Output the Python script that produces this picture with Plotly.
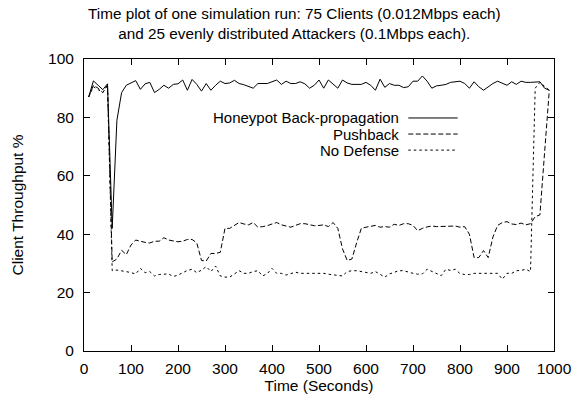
import plotly.graph_objects as go

time_s = list(range(10, 1000, 10))

honeypot = [
    87, 92.5, 91, 89.5, 91.5, 42, 79, 88.5, 91, 91.7,
    92.6, 89.6, 91.5, 92, 88.5, 89.6, 91, 90, 91.3, 91.5,
    92.8, 89.3, 93, 91.3, 89, 91.6, 89.3, 91, 92.4, 91.6,
    91.8, 92.7, 91.6, 91.2, 90.5, 90, 91.6, 91.6, 91.6, 92.2,
    92.8, 91.3, 92.4, 91.6, 91.6, 92.2, 91.5, 90, 91, 92.8,
    90, 92.8, 91.5, 90, 92.8, 91.8, 91.3, 91.3, 91.3, 92,
    91, 89.3, 93.1, 90.3, 91.6, 91, 91, 90.2, 90.5, 92.4,
    92.4, 94.2, 92.4, 90, 90.8, 91, 91.3, 92, 92.2, 92.4,
    91.6, 90, 92.2, 90.5, 89.3, 90.5, 91.6, 92.4, 91.6, 91,
    92.2, 91.3, 92.4, 92, 92, 92, 92.2, 90, 89.3,
]

pushback = [
    87, 91, 90, 88.5, 91, 30.5, 31.5, 34.5, 33, 36.3,
    38, 37.5, 37.2, 37, 37.6, 37.6, 38.8, 38, 37.7, 37.4,
    37.6, 38.2, 38.2, 37, 31, 30.8, 33.4, 33.4, 33.8, 42,
    42, 43, 44, 43.5, 43.2, 44, 42.4, 42.6, 42.9, 43.5,
    44, 43.2, 42.8, 42.4, 43, 43.6, 43.6, 43.3, 42.9, 43,
    43.2, 42.6, 44, 42, 35, 31, 31.5, 37, 42, 42.4,
    42.8, 43, 42.4, 42.6, 42.4, 43.4, 43, 43.6, 43.6, 43,
    41.2, 42, 42.5, 42.8, 42.6, 42.6, 42.8, 42.8, 42.8, 42.4,
    42.6, 40, 32, 32, 34.4, 32, 39, 43, 44, 44.3,
    43.5, 43.3, 43.8, 43.2, 43.6, 46, 46.6, 68, 89.3,
]

no_defense = [
    87, 90.5, 89.5, 88.5, 91, 27.5, 27.7, 27.5, 27.2, 26.8,
    26.4, 28.3, 26.8, 27.2, 25.7, 26.2, 26.4, 26.4, 25.5, 26,
    26.8, 27.6, 28, 26.8, 27.7, 28.9, 27.2, 29.1, 25.7, 25.3,
    25.3, 26.4, 27.5, 26.6, 26.6, 27.2, 27.5, 25.7, 26.5, 28.3,
    26.6, 26.6, 26, 26.5, 27, 26.6, 26.6, 26.5, 26.6, 26.5,
    26.6, 26.3, 26.1, 25.9, 25.7, 27.2, 27.5, 27.5, 27.2, 26.8,
    26.6, 27.2, 26.2, 25.3, 26.4, 27, 27.5, 27.5, 27, 26.6,
    26.3, 26.4, 28, 27.3, 26.6, 25.8, 28, 27.6, 28, 26.5,
    26.2, 26.2, 26.6, 26.6, 26.6, 26.4, 26.6, 26.6, 24.6, 26.6,
    26.6, 27.5, 27.6, 28, 27.2, 90, 92, 90.5, 89.3,
]

series_names = ["Honeypot Back-propagation", "Pushback", "No Defense"]
series_values = [honeypot, pushback, no_defense]
series_dash = ["solid", "5px,2.5px", "2.5px,3px"]

x_ticks = list(range(0, 1001, 100))
y_ticks = list(range(0, 101, 20))

FONT = "Liberation Sans, Arial, Helvetica, sans-serif"
FS = 15.5

fig = go.Figure()
for name, vals, dash in zip(series_names, series_values, series_dash):
    fig.add_trace(go.Scatter(
        x=time_s, y=vals, mode="lines", name=name,
        line=dict(color="black", width=1, dash=dash),
        showlegend=False,
    ))

# gnuplot-style key: text on the left, line sample on the right
key_text_x = 0.675   # paper coords (right edge of text)
key_line_x0 = 0.69
key_line_x1 = 0.795
key_y = [0.798, 0.743, 0.688]
for name, dash, ky in zip(series_names, series_dash, key_y):
    fig.add_annotation(
        x=key_text_x, y=ky, xref="paper", yref="paper",
        text=name, showarrow=False, xanchor="right", yanchor="middle",
        font=dict(family=FONT, size=15, color="black"),
    )
    fig.add_shape(
        type="line", xref="paper", yref="paper",
        x0=key_line_x0, x1=key_line_x1, y0=ky, y1=ky,
        line=dict(color="black", width=1, dash=dash),
    )

# title as a paper-anchored annotation
fig.add_annotation(
    x=0.447, y=1.122, xref="paper", yref="paper",
    text="Time plot of one simulation run: 75 Clients (0.012Mbps each)<br>"
         "and 25 evenly distributed Attackers (0.1Mbps each).",
    showarrow=False, xanchor="center", yanchor="middle", align="center",
    font=dict(family=FONT, size=15.3, color="black"),
)

axis_common = dict(
    showline=True, linecolor="black", linewidth=1, mirror="ticks",
    ticks="inside", ticklen=6, tickcolor="black", tickwidth=1,
    showgrid=False, zeroline=False, automargin=False,
    tickfont=dict(family=FONT, size=FS, color="black"),
)

fig.update_layout(
    width=574, height=398,
    margin=dict(l=84, r=20, t=59, b=47),
    paper_bgcolor="white", plot_bgcolor="white",
    font=dict(family=FONT, color="black"),
    xaxis=dict(
        range=[0, 1000], tickvals=x_ticks, ticklabelstandoff=3,
        title=dict(text="Time (Seconds)", standoff=4,
                   font=dict(family=FONT, size=FS, color="black")),
        **axis_common,
    ),
    yaxis=dict(
        range=[0, 100], tickvals=y_ticks, ticklabelstandoff=6,
        title=dict(text="Client Throughput %", standoff=20,
                   font=dict(family=FONT, size=FS, color="black")),
        **axis_common,
    ),
)

fig.write_html("out.html")
